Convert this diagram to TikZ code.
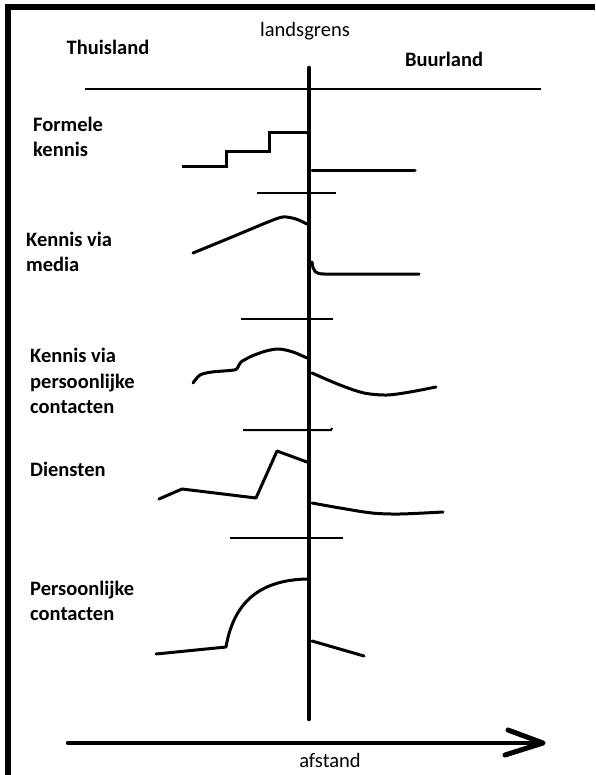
\documentclass[tikz,border=0pt]{standalone}
\usepackage{fontspec}
\setmainfont{Carlito}
\begin{document}
\begin{tikzpicture}[x=1pt,y=-1pt,
  lbl/.style={inner sep=0pt,font=\fontsize{20.5}{25.5}\selectfont,align=left},
  blbl/.style={lbl,font=\fontsize{20.5}{25.5}\selectfont\bfseries},
  curve/.style={line width=3pt,line cap=round,line join=round},
  divider/.style={line width=2pt},
  axisline/.style={line width=4.5pt,line cap=round}]
\useasboundingbox (0,0) rectangle (595,775);
% frame (top and left edges only)
\fill (5,4) rectangle (595,10);
\fill (5,4) rectangle (11,775);
% titles
\node[lbl] (landsgrens) at (305,31) {landsgrens};
\node[blbl] (thuis) at (108,47) {Thuisland};
\node[blbl] (buur) at (444,59) {Buurland};
% main lines
\draw[line width=2pt] (85,89) -- (541,89);
\draw[axisline] (309,68) coordinate (vtop) -- (309,719) coordinate (vbot);
% row labels
\node[blbl,anchor=west] (formele) at (33,137) {Formele\\kennis};
\node[blbl,anchor=west] (media) at (26,252) {Kennis via\\media};
\node[blbl,anchor=west] (pers) at (30,381) {Kennis via\\persoonlijke\\contacten};
\node[blbl,anchor=west] (diensten) at (30,469) {Diensten};
\node[blbl,anchor=west] (contact) at (30,601) {Persoonlijke\\contacten};
% dividers
\draw[divider] (257,193) -- (336,193);
\draw[divider] (241,319) -- (333,319);
\draw[divider] (243,430) -- (331,430) -- (332,428);
\draw[divider] (230,538) -- (343,538);
% Formele kennis
\draw[curve,line cap=butt,line join=miter] (182,167) -- (226,167) -- (226,152) -- (269,152) -- (269,133) -- (307,133);
\draw[curve] (312,171) -- (415,171);
% Kennis via media
\draw[curve] plot[smooth] coordinates {(193,253) (232,237) (268,222) (283,217) (296,219) (307,224)};
\draw[curve] (312,262) .. controls (313,272) and (316,274) .. (324,274) -- (419,274);
% Kennis via persoonlijke contacten
\draw[curve] plot[smooth,tension=0.5] coordinates {(193,383) (200,375) (212,372) (234,370) (238,367) (241,362) (252,356) (266,351) (279,349) (293,352) (307,358)};
\draw[curve] plot[smooth] coordinates {(312,373) (340,385) (364,393) (387,395) (410,392) (436,387)};
% Diensten
\draw[curve] (159,499) -- (182,489) -- (256,498) -- (277,451) -- (307,462);
\draw[curve] plot[smooth] coordinates {(312,503) (340,508) (372,513) (400,514) (443,512)};
% Persoonlijke contacten
\draw[curve] (156,654) -- (226,647) .. controls (234,600) and (262,580) .. (307,579);
\draw[curve] (312,641) -- (364,656);
% distance axis
\coordinate (astart) at (68,743);
\coordinate (atip) at (543,743);
\coordinate (bup) at (508,730);
\coordinate (bdn) at (505,755);
\draw[line width=4.5pt,line cap=round] (astart) -- (atip);
\draw[line width=5pt,line cap=round,line join=round] (bup) -- (atip) -- (bdn);
\node[lbl] (afstand) at (330,760) {afstand};
\end{tikzpicture}
\end{document}
